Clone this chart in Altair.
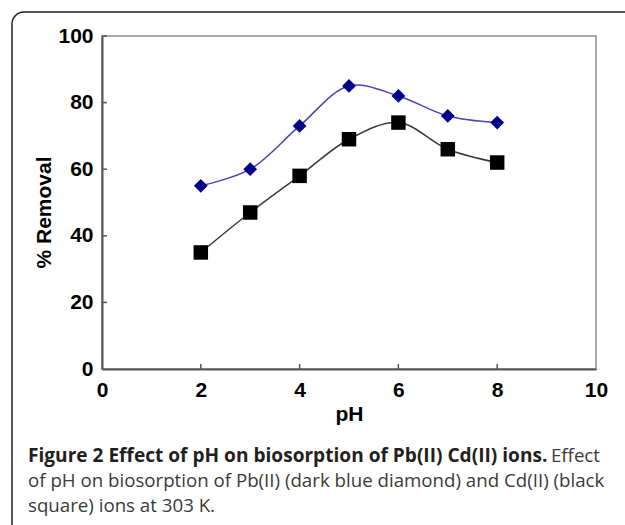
import altair as alt
import pandas as pd

# ---- data ----
ph = [2, 3, 4, 5, 6, 7, 8]
pb_removal = [55, 60, 73, 85, 82, 76, 74]   # dark blue diamonds
cd_removal = [35, 47, 58, 69, 74, 66, 62]   # black squares
series_names = ["Pb(II)", "Cd(II)"]
x_tick_values = [0, 2, 4, 6, 8, 10]
y_tick_values = [0, 20, 40, 60, 80, 100]
x_inner_ticks = [2, 4, 6, 8]
y_inner_ticks = [20, 40, 60, 80, 100]

caption_bold = "Figure 2 Effect of pH on biosorption of Pb(II) Cd(II) ions."
caption_line1_tail = "Effect"
caption_line2 = "of pH on biosorption of Pb(II) (dark blue diamond) and Cd(II) (black"
caption_line3 = "square) ions at 303 K."

rows = []
for name, vals in zip(series_names, [pb_removal, cd_removal]):
    for p, v in zip(ph, vals):
        rows.append({"pH": p, "Removal": v, "series": name})
df = pd.DataFrame(rows)

W, H = 494, 333
AX_FONT = "Liberation Sans"
CAP_FONT = "Open Sans"

x_enc = alt.X("pH:Q", scale=alt.Scale(domain=[0, 10], nice=False, zero=False),
              axis=alt.Axis(values=x_tick_values, title="pH", format="d"))
y_enc = alt.Y("Removal:Q", scale=alt.Scale(domain=[0, 100], nice=False),
              axis=alt.Axis(values=y_tick_values, title="% Removal", format="d"))

line_colors = alt.Scale(domain=series_names, range=["#4646b4", "#3a3a3a"])
point_colors = alt.Scale(domain=series_names, range=["#00008b", "#000000"])
shapes = alt.Scale(domain=series_names, range=["diamond", "square"])
sizes = alt.Scale(domain=series_names, range=[190, 210])

lines = alt.Chart(df).mark_line(interpolate="catmull-rom", strokeWidth=1.5).encode(
    x=x_enc, y=y_enc,
    stroke=alt.Stroke("series:N", scale=line_colors, legend=None),
    detail="series:N",
)

points = alt.Chart(df).mark_point(filled=True, opacity=1, strokeWidth=0).encode(
    x=x_enc, y=y_enc,
    fill=alt.Fill("series:N", scale=point_colors, legend=None),
    shape=alt.Shape("series:N", scale=shapes, legend=None),
    size=alt.Size("series:N", scale=sizes, legend=None),
)

xt = pd.DataFrame({"pH": x_inner_ticks})
x_ticks_layer = alt.Chart(xt).mark_rule(color="#555555", strokeWidth=1.5).encode(
    x="pH:Q", y=alt.value(H), y2=alt.value(H - 5)
)
yt = pd.DataFrame({"Removal": y_inner_ticks})
y_ticks_layer = alt.Chart(yt).mark_rule(color="#555555", strokeWidth=1.5).encode(
    y="Removal:Q", x=alt.value(0), x2=alt.value(5)
)

one = pd.DataFrame({"k": [0]})
frame = alt.Chart(one).mark_rect(
    fill=None, fillOpacity=0, stroke="#222222", strokeWidth=1.5, cornerRadius=12
).encode(x=alt.value(-90), x2=alt.value(560), y=alt.value(-24), y2=alt.value(540))


def caption(text, x, y, weight, size, align="left", color="#3a3a3a"):
    d = pd.DataFrame({"t": [text]})
    return alt.Chart(d).mark_text(
        font=CAP_FONT, fontSize=size, fontWeight=weight, align=align,
        baseline="alphabetic", color=color
    ).encode(text="t:N", x=alt.value(x), y=alt.value(y))


cap1 = caption(caption_bold, -74, 426, "bold", 19.1, color="#231f20")
cap1b = caption(caption_line1_tail, 498, 426, "normal", 18.7, align="right")
cap2 = caption(caption_line2, -74, 451, "normal", 18.7)
cap3 = caption(caption_line3, -74, 476, "normal", 18.7)

chart = alt.layer(
    frame, lines, points, x_ticks_layer, y_ticks_layer, cap1, cap1b, cap2, cap3
).properties(
    width=W, height=H,
    autosize=alt.AutoSizeParams(type="none"),
    padding={"left": 102, "top": 36, "right": 29, "bottom": 156},
    background="white",
).configure_view(
    stroke="#a8a8a8", strokeWidth=2
).configure_axis(
    grid=False,
    ticks=False,
    labelFlush=False,
    labelOverlap=False,
    domainColor="#555555",
    domainWidth=2,
    labelFont=AX_FONT,
    labelFontSize=21,
    labelFontWeight="bold",
    labelColor="#000000",
    titleFont=AX_FONT,
    titleFontSize=21,
    titleFontWeight="bold",
    titleColor="#000000",
).configure_axisX(
    labelPadding=10,
    titleY=45,
    titleBaseline="middle",
).configure_axisY(
    labelPadding=9,
    titleX=-58,
    titleY=176,
    titleAngle=-90,
    titleAlign="center",
    titleBaseline="middle",
)

chart.save("out.html", embed_options={"renderer": "svg", "actions": False})
